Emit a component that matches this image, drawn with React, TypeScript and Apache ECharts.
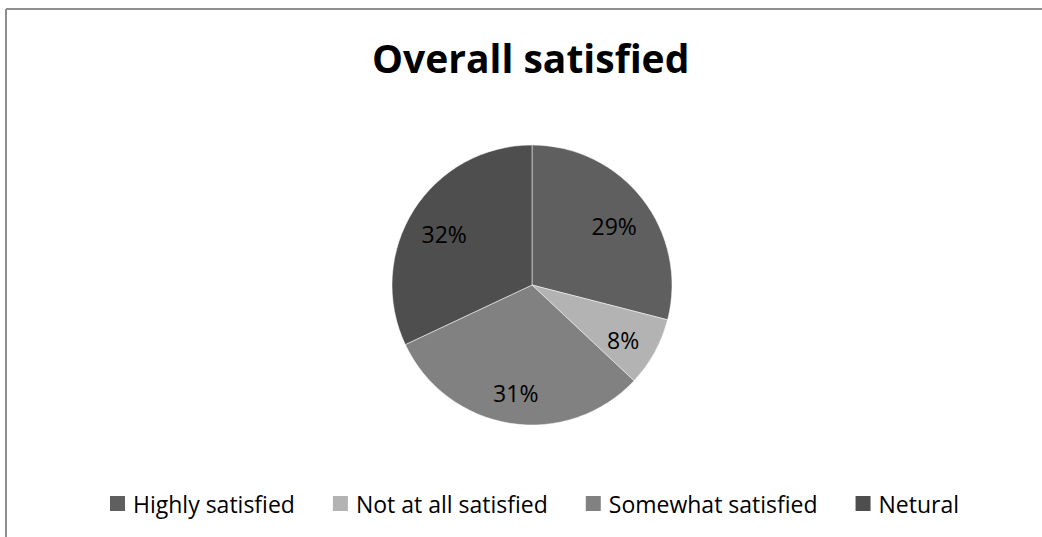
import React, { useEffect, useRef } from "react";
import * as echarts from "echarts";

const categories = ["Highly satisfied", "Not at all satisfied", "Somewhat satisfied", "Netural"];
const values = [29, 8, 31, 32];
const colors = ["#5f5f5f", "#b3b3b3", "#818181", "#4e4e4e"];
const titleText = "Overall satisfied";

export default function App() {
  const ref = useRef<HTMLDivElement>(null);
  useEffect(() => {
    if (!ref.current) return;
    const chart = echarts.init(ref.current, null, { renderer: "svg" });
    const data = categories.map((name, i) => ({ name, value: values[i], itemStyle: { color: colors[i] } }));
    chart.setOption({
      animation: false,
      backgroundColor: "#ffffff",
      title: {
        text: titleText,
        left: 367,
        top: 33,
        textStyle: { fontFamily: "Open Sans", fontWeight: "bold", fontSize: 39, color: "#000" },
      },
      legend: {
        top: 487,
        left: 105,
        itemWidth: 15,
        itemHeight: 15,
        itemGap: 38,
        icon: "rect",
        itemStyle: { borderWidth: 0 },
        data: categories.map((name, i) => ({ name, itemStyle: { color: colors[i], borderWidth: 0 } })),
        textStyle: { fontFamily: "Open Sans", fontSize: 23, color: "#000", padding: [0, 0, 0, 3] },
      },
      graphic: [
        { type: "line", shape: { x1: 6, y1: 9, x2: 1042, y2: 9 }, style: { stroke: "#8e8e8e", lineWidth: 2 } },
        { type: "line", shape: { x1: 6, y1: 9, x2: 6, y2: 537 }, style: { stroke: "#8e8e8e", lineWidth: 2 } },
      ],
      series: [
        {
          type: "pie",
          center: [532, 285],
          radius: [0, 140],
          startAngle: 90,
          clockwise: true,
          label: { show: false },
          labelLine: { show: false },
          itemStyle: { borderColor: "rgba(255,255,255,0.5)", borderWidth: 1 },
          emphasis: { disabled: true },
          data,
        },
        {
          type: "pie",
          center: [532, 285],
          radius: [62, 140],
          startAngle: 90,
          clockwise: true,
          silent: true,
          itemStyle: { color: "rgba(0,0,0,0)", borderWidth: 0 },
          label: {
            show: true,
            position: "inside",
            formatter: "{c}%",
            fontFamily: "Open Sans",
            fontSize: 23,
            color: "#000",
          },
          labelLayout: { dy: 5 },
          labelLine: { show: false },
          emphasis: { disabled: true },
          data: categories.map((name, i) => ({ name, value: values[i] })),
        },
      ],
    });
    return () => chart.dispose();
  }, []);
  return <div ref={ref} style={{ position: "fixed", left: 0, top: 0, width: 1042, height: 537 }} />;
}
